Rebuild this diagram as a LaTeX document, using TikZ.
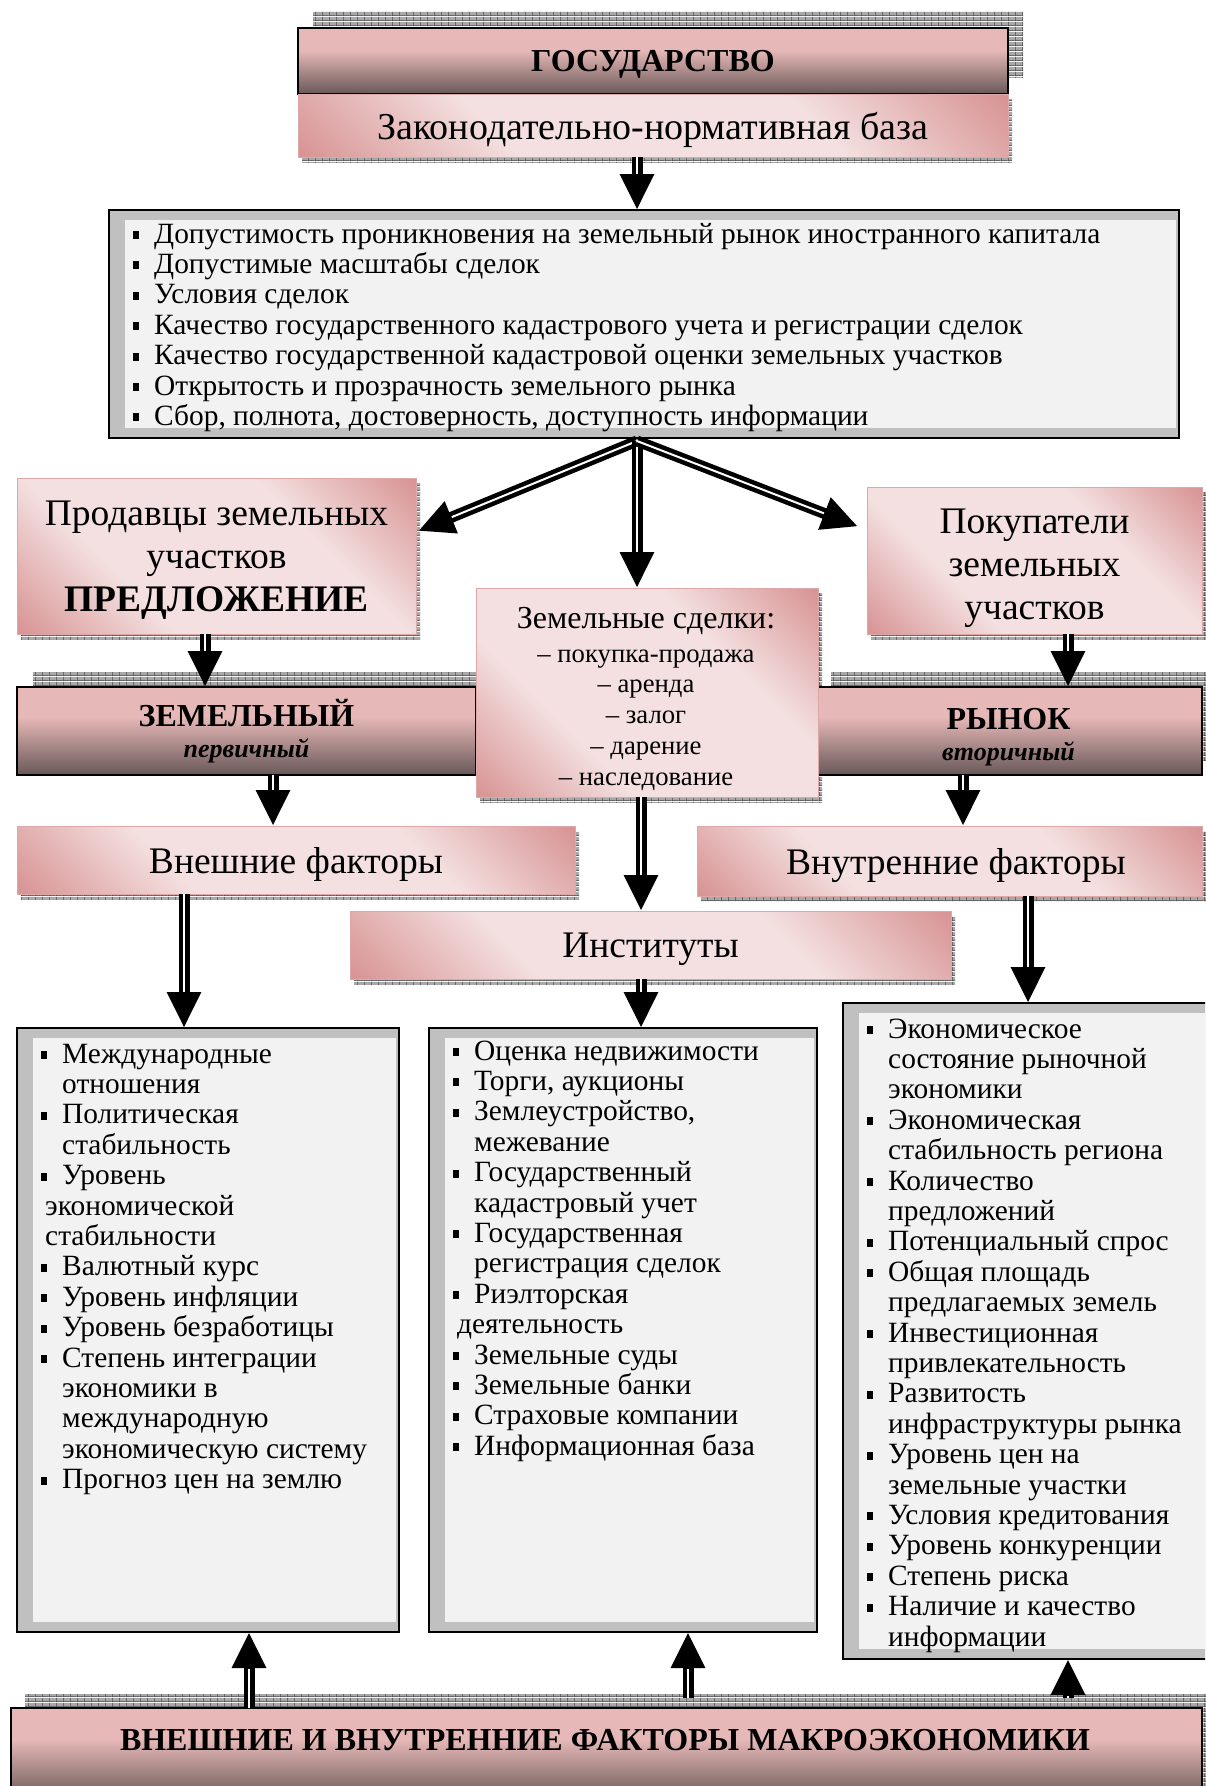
\documentclass[tikz,border=0pt]{standalone}
\usepackage{fontspec}
\setmainfont{Liberation Serif}
\usetikzlibrary{arrows.meta,calc,patterns,backgrounds}
\lineskiplimit=-100pt

\definecolor{pinkL}{RGB}{244,224,224}
\definecolor{pinkD}{RGB}{216,148,148}
\definecolor{pinkB}{RGB}{222,168,168}
\definecolor{hdL}{RGB}{230,184,183}
\definecolor{hdD}{RGB}{104,88,88}
\definecolor{frameG}{RGB}{192,192,192}
\definecolor{innerG}{RGB}{242,242,242}
\definecolor{hatchBG}{RGB}{168,168,168}
\definecolor{hatchFG}{RGB}{72,72,72}

\pgfdeclarehorizontalshading{pinkband}{100bp}{color(0bp)=(pinkD); color(15bp)=(pinkD); color(35bp)=(pinkL); color(65bp)=(pinkL); color(85bp)=(pinkD); color(100bp)=(pinkD)}
\pgfdeclareverticalshading{hdshade}{100bp}{color(0bp)=(hdD); color(25bp)=(hdD); color(58bp)=(hdL); color(100bp)=(hdL)}

\pgfdeclarepatterninherentlycolored{hgridc}{\pgfqpoint{0pt}{0pt}}{\pgfqpoint{7pt}{5pt}}{\pgfqpoint{7pt}{5pt}}{%
  \pgfsetfillcolor{hatchBG}%
  \pgfpathrectangle{\pgfqpoint{0pt}{0pt}}{\pgfqpoint{7pt}{5pt}}\pgfusepath{fill}%
  \pgfsetstrokecolor{hatchFG}\pgfsetlinewidth{0.8pt}%
  \pgfpathmoveto{\pgfqpoint{0.4pt}{0pt}}\pgfpathlineto{\pgfqpoint{0.4pt}{5pt}}%
  \pgfpathmoveto{\pgfqpoint{0pt}{0.4pt}}\pgfpathlineto{\pgfqpoint{7pt}{0.4pt}}%
  \pgfusepath{stroke}}

\newcommand{\mybul}{\makebox[21pt][l]{\rule[4pt]{6pt}{8pt}}}
\newcommand{\myind}{\hspace*{21pt}}
\newcommand{\mysh}{\hspace*{4pt}}
\newcommand{\darrow}[3][0pt]{\draw[arr] #2 -- #3; \draw[arrw, xshift=#1] #2 -- #3;}

\tikzset{
  pinkbox/.style={draw=pinkB, line width=1pt, shading=pinkband, shading angle=45, inner sep=0, outer sep=0, align=center, text depth=0pt},
  hdrbox/.style={draw=black, line width=1.5pt, shading=hdshade, inner sep=0, outer sep=0, align=center},
  listbox/.style={draw=black, line width=1.5pt, fill=frameG, inner sep=0, outer sep=0},
  listtext/.style={anchor=base west, inner sep=0, font=\fontsize{29.4}{30.4}\selectfont},
  hatch/.style={pattern=hgridc},
  arr/.style={line width=11pt, -{Triangle[length=36pt,width=32pt]}},
  arrw/.style={white, line width=2pt, shorten >=36.5pt},
  big/.style={font=\fontsize{37.5}{43}\selectfont},
  btext/.style={inner sep=0, align=center, text depth=0pt}
}

\begin{document}
\begin{tikzpicture}[x=1pt,y=-1pt]
\useasboundingbox (0,0) rectangle (1205,1786);
\clip (0,0) rectangle (1205,1786);

% ---------- boxes ----------
\node[hdrbox, text depth=0pt, minimum width=710pt, minimum height=66pt, font=\fontsize{32}{36}\selectfont\bfseries] (gos) at (653,61) {ГОСУДАРСТВО};
\node[pinkbox, minimum width=710pt, minimum height=63pt, font=\fontsize{38}{43}\selectfont] (zak) at (653,125.5) {Законодательно-нормативная база};

\node[listbox, minimum width=1070pt, minimum height=228pt] (L0) at (644,324) {};
\fill[innerG] ($(L0.north west)+(16,10)$) rectangle ($(L0.south east)+(-3,-10)$);
\node[listtext] (L0t) at (133,243) {\vtop{%
\hbox{\mybul Допустимость проникновения на земельный рынок иностранного капитала}
\hbox{\mybul Допустимые масштабы сделок}
\hbox{\mybul Условия сделок}
\hbox{\mybul Качество государственного кадастрового учета и регистрации сделок}
\hbox{\mybul Качество государственной кадастровой оценки земельных участков}
\hbox{\mybul Открытость и прозрачность земельного рынка}
\hbox{\mybul Сбор, полнота, достоверность, доступность информации}}};

\node[pinkbox, big, minimum width=399pt, minimum height=156pt] (prod) at (216.5,556) {Продавцы земельных\\участков\\\textbf{ПРЕДЛОЖЕНИЕ}};
\node[pinkbox, minimum width=335pt, minimum height=147pt] (pok) at (1034.5,560.5) {};
\node[btext, big] (pokT) at (1034.5,564.5) {Покупатели\\земельных\\участков};

\node[hdrbox, minimum width=459pt, minimum height=88pt, font=\fontsize{32}{31}\selectfont] (zem) at (246.5,731) {\textbf{ЗЕМЕЛЬНЫЙ}\\{\fontsize{26}{31}\selectfont\bfseries\itshape первичный}};
\node[hdrbox, text depth=0pt, minimum width=387pt, minimum height=88pt, font=\fontsize{32}{31}\selectfont] (ryn) at (1008.5,731) {\textbf{РЫНОК}\vphantom{Й}\\{\fontsize{26}{31}\selectfont\bfseries\itshape вторичный}};

\node[pinkbox, minimum width=342pt, minimum height=209pt] (sd) at (647,692.5) {};
\node[inner sep=0, align=center, font=\fontsize{26.7}{30.75}\selectfont] (sdT) at (646,698.5) {{\fontsize{32}{32}\selectfont Земельные сделки:}\\[3.3pt]– покупка-продажа\\– аренда\\– залог\\– дарение\\– наследование};

\node[pinkbox, big, minimum width=558pt, minimum height=68pt] (vn) at (296,860) {Внешние факторы};
\node[pinkbox, minimum width=505pt, minimum height=70pt] (vt) at (949.5,861) {};
\node[btext, big] (vtT) at (956,861) {Внутренние факторы};
\node[pinkbox, big, minimum width=601pt, minimum height=68pt] (ins) at (650.5,945) {Институты};

\node[listbox, minimum width=382pt, minimum height=604pt] (L1) at (208,1330) {};
\fill[innerG] ($(L1.north west)+(16,10)$) rectangle ($(L1.south east)+(-3,-10)$);
\node[listtext] (L1t) at (41,1063) {\vtop{%
\hbox{\mybul Международные}
\hbox{\myind отношения}
\hbox{\mybul Политическая}
\hbox{\myind стабильность}
\hbox{\mybul Уровень}
\hbox{\mysh экономической}
\hbox{\mysh стабильности}
\hbox{\mybul Валютный курс}
\hbox{\mybul Уровень инфляции}
\hbox{\mybul Уровень безработицы}
\hbox{\mybul Степень интеграции}
\hbox{\myind экономики в}
\hbox{\myind международную}
\hbox{\myind экономическую систему}
\hbox{\mybul Прогноз цен на землю}}};

\node[listbox, minimum width=388pt, minimum height=604pt] (L2) at (623,1330) {};
\fill[innerG] ($(L2.north west)+(16,10)$) rectangle ($(L2.south east)+(-3,-10)$);
\node[listtext] (L2t) at (453,1060) {\vtop{%
\hbox{\mybul Оценка недвижимости}
\hbox{\mybul Торги, аукционы}
\hbox{\mybul Землеустройство,}
\hbox{\myind межевание}
\hbox{\mybul Государственный}
\hbox{\myind кадастровый учет}
\hbox{\mybul Государственная}
\hbox{\myind регистрация сделок}
\hbox{\mybul Риэлторская}
\hbox{\mysh деятельность}
\hbox{\mybul Земельные суды}
\hbox{\mybul Земельные банки}
\hbox{\mybul Страховые компании}
\hbox{\mybul Информационная база}}};

\node[listbox, minimum width=372pt, minimum height=656pt] (L3) at (1029,1331) {};
\fill[innerG] ($(L3.north west)+(16,10)$) rectangle ($(L3.south east)+(-3,-10)$);
\node[listtext] (L3t) at (867,1038) {\vtop{%
\hbox{\mybul Экономическое}
\hbox{\myind состояние рыночной}
\hbox{\myind экономики}
\hbox{\mybul Экономическая}
\hbox{\myind стабильность региона}
\hbox{\mybul Количество}
\hbox{\myind предложений}
\hbox{\mybul Потенциальный спрос}
\hbox{\mybul Общая площадь}
\hbox{\myind предлагаемых земель}
\hbox{\mybul Инвестиционная}
\hbox{\myind привлекательность}
\hbox{\mybul Развитость}
\hbox{\myind инфраструктуры рынка}
\hbox{\mybul Уровень цен на}
\hbox{\myind земельные участки}
\hbox{\mybul Условия кредитования}
\hbox{\mybul Уровень конкуренции}
\hbox{\mybul Степень риска}
\hbox{\mybul Наличие и качество}
\hbox{\myind информации}}};

\node[hdrbox, minimum width=1191pt, minimum height=92pt] (bot) at (606.5,1754) {};
\node[inner sep=0, font=\fontsize{32}{36}\selectfont\bfseries] (botT) at (605,1740) {ВНЕШНИЕ И ВНУТРЕННИЕ ФАКТОРЫ МАКРОЭКОНОМИКИ};

% ---------- shadows ----------
\begin{scope}[on background layer]
\fill[hatch] ($(gos.south west)+(15,-17)$) rectangle ($(gos.north east)+(15,-17)$);
\fill[hatch] ($(zem.south west)+(16,-15)$) rectangle ($(zem.north east)+(16,-15)$);
\fill[hatch] ($(ryn.south west)+(16,-15)$) rectangle ($(ryn.north east)+(16,-15)$);
\fill[hatch] ($(bot.south west)+(14,-14)$) rectangle ($(bot.north east)+(14,-14)$);
\foreach \b in {zak,prod,pok,sd,vn,vt,ins}
  \fill[hatch] ($(\b.south west)+(4,5)$) rectangle ($(\b.north east)+(4,5)$);
\end{scope}

% ---------- arrows ----------
\coordinate (xa) at (637,0);
\coordinate (xb) at (205,0);
\coordinate (xc) at (1068,0);
\coordinate (xd) at (273,0);
\coordinate (xe) at (963,0);
\coordinate (xf) at (641,0);
\coordinate (xg) at (184,0);
\coordinate (xh) at (1028,0);
\coordinate (xi) at (249,0);
\coordinate (xj) at (688,0);
\coordinate (fork) at ($(L0.south -| xa)+(0,3)$);

\darrow[2pt]{(zak.south -| xa)}{(L0.north -| xa)}
\darrow{(fork)}{($(prod.east)+(2,-25)$)}
\darrow[2pt]{(fork)}{(sd.north -| xa)}
\darrow{(fork)}{($(pok.west)+(-9,-34)$)}
\darrow[2pt]{(prod.south -| xb)}{(zem.north -| xb)}
\darrow[2pt]{(pok.south -| xc)}{(ryn.north -| xc)}
\darrow[2pt]{(zem.south -| xd)}{(vn.north -| xd)}
\darrow[2pt]{(ryn.south -| xe)}{(vt.north -| xe)}
\darrow[2pt]{(sd.south -| xf)}{(ins.north -| xf)}
\darrow[2pt]{(vn.south -| xg)}{(L1.north -| xg)}
\darrow[2pt]{(ins.south -| xf)}{(L2.north -| xf)}
\darrow[2pt]{(vt.south -| xh)}{(L3.north -| xh)}
\darrow[2pt]{(bot.north -| xi)}{(L1.south -| xi)}
\darrow[2pt]{($(bot.north -| xj)+(0,-10)$)}{(L2.south -| xj)}
\darrow[2pt]{($(bot.north -| xc)+(0,-10)$)}{(L3.south -| xc)}
\end{tikzpicture}
\end{document}
